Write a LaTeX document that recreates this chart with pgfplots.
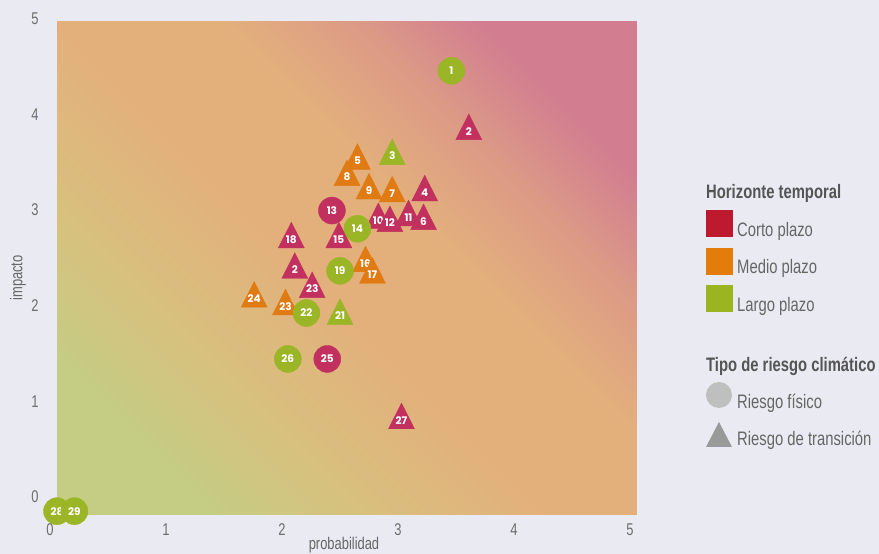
\documentclass[border=0pt]{standalone}
\usepackage{pgfplots}
\pgfplotsset{compat=1.18}
\usepackage{fontspec}
\setmainfont{Liberation Sans}[FakeStretch=0.76]
\newfontfamily\lblfont{Poppins}
\usetikzlibrary{backgrounds}
\definecolor{bgpage}{HTML}{EAEAF2}
\definecolor{mR}{HTML}{C2305F}
\definecolor{mO}{HTML}{E07A12}
\definecolor{mG}{HTML}{9AB525}
\definecolor{lR}{HTML}{BE1A2F}
\definecolor{lO}{HTML}{E47C0C}
\definecolor{lG}{HTML}{9AB520}
\definecolor{gBL}{HTML}{C5CC84}
\definecolor{gY}{HTML}{D8C07E}
\definecolor{gMid}{HTML}{E3B07C}
\definecolor{gP}{HTML}{DC9A86}
\definecolor{gTR}{HTML}{D27E90}
\definecolor{tickc}{HTML}{6D6D6D}
\definecolor{txtc}{HTML}{666666}
\definecolor{titc}{HTML}{555555}
\pgfdeclarehorizontalshading{bgshade}{100bp}{color(0bp)=(gBL); color(25bp)=(gBL); color(35bp)=(gY); color(47bp)=(gMid); color(58bp)=(gMid); color(67bp)=(gP); color(75bp)=(gTR); color(100bp)=(gTR)}
\pgfplotsset{
  cc/.style={only marks, mark=*, mark size=13.5pt},
  tt/.style={only marks, mark=triangle*, mark size=15pt, mark options={yscale=1.14}},
}
\newcommand{\pt}[5]{\addplot[#3, color=#4, nodes near coords={#5},
  every node near coord/.style={anchor=center, text=white, font=\lblfont\bfseries\fontsize{10.5}{11}\selectfont}]
  coordinates {(#1,#2)};}
\begin{document}
\begin{tikzpicture}
\path[use as bounding box] (0pt,0pt) rectangle (879pt,554pt);
\begin{axis}[
  at={(57pt,39pt)}, anchor=south west,
  scale only axis, width=580pt, height=493pt,
  xmin=0, xmax=5, ymin=-0.15, ymax=5,
  xtick={0,1,2,3,4,5}, ytick={0,1,2,3,4,5},
  axis line style={draw=none}, tick style={draw=none},
  clip=false,
  /pgf/number format/assume math mode=true,
  ticklabel style={font=\fontsize{17}{20}\selectfont, text=tickc},
  xticklabel style={anchor=center, yshift=-15pt, xshift=-7pt},
  yticklabel style={anchor=center, xshift=-22pt, yshift=3.5pt},
  axis background/.style={shading=bgshade, shading angle=45},
]
\pt{3.40}{4.49}{cc}{mG}{1}
\pt{3.55}{3.86}{tt}{mR}{2}
\pt{2.89}{3.60}{tt}{mG}{3}
\pt{3.17}{3.22}{tt}{mR}{4}
\pt{2.59}{3.55}{tt}{mO}{5}
\pt{3.16}{2.92}{tt}{mR}{6}
\pt{2.89}{3.21}{tt}{mO}{7}
\pt{2.50}{3.38}{tt}{mO}{8}
\pt{2.69}{3.24}{tt}{mO}{9}
\pt{2.77}{2.93}{tt}{mR}{10}
\pt{3.03}{2.96}{tt}{mR}{11}
\pt{2.87}{2.90}{tt}{mR}{12}
\pt{2.37}{3.03}{cc}{mR}{13}
\pt{2.59}{2.84}{cc}{mG}{14}
\pt{2.43}{2.73}{tt}{mR}{15}
\pt{2.66}{2.48}{tt}{mO}{16}
\pt{2.72}{2.36}{tt}{mO}{17}
\pt{2.02}{2.73}{tt}{mR}{18}
\pt{2.44}{2.40}{cc}{mG}{19}
\pt{2.05}{2.41}{tt}{mR}{2}
\pt{2.44}{1.93}{tt}{mG}{21}
\pt{1.97}{2.03}{tt}{mO}{23}
\pt{2.15}{1.96}{cc}{mG}{22}
\pt{2.20}{2.21}{tt}{mR}{23}
\pt{1.70}{2.11}{tt}{mO}{24}
\pt{2.33}{1.48}{cc}{mR}{25}
\pt{1.99}{1.48}{cc}{mG}{26}
\pt{2.97}{0.84}{tt}{mR}{27}
\pt{0.00}{-0.11}{cc}{mG}{28}
\pt{0.15}{-0.11}{cc}{mG}{29}
\end{axis}
% axis titles
\node[rotate=90, text=txtc, font=\fontsize{17}{20}\selectfont] at (18pt,276pt) {impacto};
\node[text=txtc, font=\fontsize{17}{20}\selectfont] at (344pt,9pt) {probabilidad};
% legend
\node[anchor=base west, inner sep=0pt, text=titc, font=\bfseries\fontsize{19.5}{22}\selectfont] at (706pt,355pt) {Horizonte temporal};
\fill[lR] (706pt,317pt) rectangle (733pt,344pt);
\fill[lO] (706pt,279pt) rectangle (733pt,306pt);
\fill[lG] (706pt,242pt) rectangle (733pt,269pt);
\node[anchor=base west, inner sep=0pt, text=txtc, font=\fontsize{19.5}{22}\selectfont] at (737pt,317pt) {Corto plazo};
\node[anchor=base west, inner sep=0pt, text=txtc, font=\fontsize{19.5}{22}\selectfont] at (737pt,280pt) {Medio plazo};
\node[anchor=base west, inner sep=0pt, text=txtc, font=\fontsize{19.5}{22}\selectfont] at (737pt,242pt) {Largo plazo};
\node[anchor=base west, inner sep=0pt, text=titc, font=\bfseries\fontsize{19.5}{22}\selectfont] at (706pt,182pt) {Tipo de riesgo climático};
\fill[gray!50] (719pt,159pt) circle (13pt);
\fill[gray!80] (706pt,107pt) -- (732pt,107pt) -- (719pt,132pt) -- cycle;
\node[anchor=base west, inner sep=0pt, text=txtc, font=\fontsize{19.5}{22}\selectfont] at (737pt,145pt) {Riesgo físico};
\node[anchor=base west, inner sep=0pt, text=txtc, font=\fontsize{19.5}{22}\selectfont] at (737pt,108pt) {Riesgo de transición};
\begin{scope}[on background layer]
\fill[bgpage] (0pt,0pt) rectangle (879pt,554pt);
\end{scope}
\end{tikzpicture}
\end{document}
